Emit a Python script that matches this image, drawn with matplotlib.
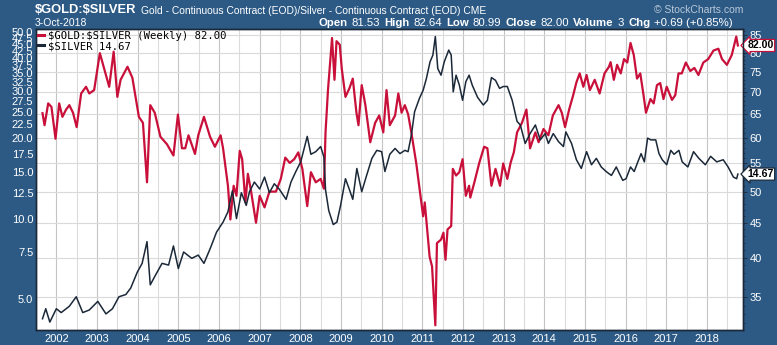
import numpy as np
import matplotlib
matplotlib.use("Agg")
import matplotlib.pyplot as plt
from matplotlib.ticker import FixedLocator, NullFormatter, NullLocator

# Gold/Silver ratio, weekly (decimal year, value)
ratio_t = [2001.66, 2001.71, 2001.80, 2001.88, 2001.98, 2002.07, 2002.15, 2002.24, 2002.32, 2002.41,
           2002.50, 2002.61, 2002.73, 2002.81, 2002.93, 2003.07, 2003.18, 2003.30, 2003.41, 2003.50,
           2003.58, 2003.75, 2003.87, 2004.03, 2004.13, 2004.23, 2004.31, 2004.42, 2004.56, 2004.72,
           2004.88, 2004.99, 2005.09, 2005.17, 2005.25, 2005.41, 2005.49, 2005.63, 2005.78, 2005.90,
           2006.04, 2006.10, 2006.22, 2006.28, 2006.36, 2006.43, 2006.51, 2006.57, 2006.65, 2006.71,
           2006.79, 2006.91, 2007.00, 2007.12, 2007.24, 2007.40, 2007.52, 2007.63, 2007.74, 2007.85,
           2007.95, 2008.05, 2008.17, 2008.26, 2008.38, 2008.50, 2008.58, 2008.62, 2008.68, 2008.78,
           2008.84, 2008.89, 2008.97, 2009.02, 2009.11, 2009.21, 2009.29, 2009.38, 2009.43, 2009.51,
           2009.60, 2009.72, 2009.84, 2009.94, 2010.04, 2010.12, 2010.20, 2010.33, 2010.41, 2010.49,
           2010.57, 2010.65, 2010.73, 2010.85, 2010.94, 2011.02, 2011.06, 2011.18, 2011.24, 2011.32,
           2011.36, 2011.46, 2011.52, 2011.57, 2011.62, 2011.71, 2011.75, 2011.83, 2011.91, 2011.99,
           2012.07, 2012.15, 2012.18, 2012.28, 2012.40, 2012.52, 2012.60, 2012.70, 2012.80, 2012.91,
           2012.99, 2013.09, 2013.17, 2013.25, 2013.33, 2013.45, 2013.56, 2013.65, 2013.78, 2013.86,
           2013.98, 2014.10, 2014.21, 2014.35, 2014.43, 2014.51, 2014.61, 2014.71, 2014.79, 2014.87,
           2014.96, 2015.04, 2015.12, 2015.24, 2015.36, 2015.48, 2015.59, 2015.63, 2015.71, 2015.79,
           2015.88, 2015.96, 2016.04, 2016.12, 2016.20, 2016.28, 2016.36, 2016.44, 2016.50, 2016.61,
           2016.69, 2016.77, 2016.85, 2016.93, 2017.01, 2017.14, 2017.22, 2017.30, 2017.38, 2017.48,
           2017.59, 2017.69, 2017.79, 2017.91, 2018.03, 2018.16, 2018.28, 2018.37, 2018.49, 2018.61,
           2018.72, 2018.76]
ratio_v = [65.2, 62.6, 67.4, 66.6, 59.8, 67.4, 64.4, 66.0, 67.0, 65.3,
           62.2, 69.7, 71.3, 69.7, 70.5, 79.9, 75.7, 71.3, 80.3, 68.9,
           73.0, 76.3, 73.5, 64.4, 63.1, 51.6, 67.0, 65.3, 60.2, 58.7,
           56.5, 64.9, 57.9, 57.9, 60.5, 56.8, 60.5, 64.4, 60.2, 58.2,
           60.5, 57.9, 51.0, 45.5, 51.0, 49.3, 57.4, 55.8, 48.2, 53.1,
           50.0, 45.0, 49.3, 47.4, 50.0, 50.0, 52.2, 56.1, 55.1, 55.8,
           57.1, 54.0, 47.6, 53.4, 51.6, 52.2, 50.5, 61.1, 70.5, 84.1,
           73.0, 83.2, 82.2, 75.7, 68.9, 71.0, 73.3, 65.3, 62.6, 71.7,
           67.0, 59.1, 63.1, 64.7, 61.1, 70.5, 62.6, 64.7, 69.7, 65.3,
           67.0, 65.0, 61.1, 55.1, 50.0, 46.0, 48.2, 40.1, 38.8, 31.8,
           42.0, 42.5, 43.5, 39.7, 44.0, 44.5, 54.0, 52.8, 53.4, 55.8,
           49.3, 51.0, 49.0, 51.6, 55.1, 58.2, 57.9, 51.0, 54.0, 51.0,
           55.0, 52.2, 55.1, 57.1, 61.1, 63.1, 66.0, 57.9, 61.1, 59.1,
           61.8, 60.5, 64.7, 67.0, 65.3, 62.2, 66.0, 69.3, 72.4, 74.6,
           71.3, 74.2, 70.5, 73.0, 69.7, 74.6, 76.3, 77.5, 73.0, 76.8,
           74.6, 78.3, 77.4, 82.7, 79.4, 73.3, 74.6, 69.3, 65.3, 68.4,
           67.4, 71.7, 72.2, 68.4, 71.3, 68.2, 69.3, 74.6, 74.6, 77.4,
           75.2, 76.0, 74.2, 77.4, 78.3, 80.6, 81.1, 78.3, 76.8, 79.4,
           84.5, 82.00]

# Silver price, weekly
silver_t = [2001.66, 2001.74, 2001.84, 2002.00, 2002.12, 2002.32, 2002.49, 2002.65, 2002.81, 2003.02,
            2003.22, 2003.38, 2003.54, 2003.71, 2003.83, 2003.99, 2004.11, 2004.23, 2004.31, 2004.44,
            2004.60, 2004.76, 2004.88, 2005.00, 2005.13, 2005.33, 2005.49, 2005.63, 2005.78, 2005.94,
            2006.10, 2006.22, 2006.33, 2006.43, 2006.55, 2006.67, 2006.75, 2006.87, 2007.00, 2007.12,
            2007.24, 2007.36, 2007.48, 2007.65, 2007.77, 2007.89, 2008.01, 2008.17, 2008.26, 2008.38,
            2008.50, 2008.58, 2008.62, 2008.70, 2008.81, 2008.90, 2008.99, 2009.11, 2009.21, 2009.29,
            2009.39, 2009.51, 2009.63, 2009.76, 2009.88, 2010.00, 2010.08, 2010.20, 2010.33, 2010.45,
            2010.57, 2010.65, 2010.73, 2010.81, 2010.93, 2011.02, 2011.10, 2011.19, 2011.26, 2011.32,
            2011.38, 2011.46, 2011.54, 2011.65, 2011.71, 2011.76, 2011.83, 2011.91, 2011.99, 2012.07,
            2012.15, 2012.23, 2012.36, 2012.50, 2012.60, 2012.70, 2012.80, 2012.90, 2012.99, 2013.09,
            2013.21, 2013.33, 2013.41, 2013.53, 2013.65, 2013.78, 2013.90, 2014.02, 2014.10, 2014.22,
            2014.35, 2014.47, 2014.53, 2014.67, 2014.79, 2014.91, 2015.04, 2015.16, 2015.28, 2015.40,
            2015.52, 2015.65, 2015.77, 2015.85, 2015.93, 2016.01, 2016.12, 2016.21, 2016.30, 2016.38,
            2016.46, 2016.54, 2016.62, 2016.74, 2016.82, 2016.90, 2017.01, 2017.11, 2017.19, 2017.31,
            2017.39, 2017.53, 2017.67, 2017.80, 2017.96, 2018.09, 2018.24, 2018.40, 2018.52, 2018.65,
            2018.73, 2018.76]
silver_v = [4.22, 4.6, 4.1, 4.6, 4.45, 4.7, 5.1, 4.45, 4.55, 4.9,
            4.4, 4.6, 5.1, 5.2, 5.5, 6.3, 6.8, 8.2, 5.65, 6.15,
            6.8, 6.7, 7.9, 6.5, 7.5, 7.1, 7.3, 6.8, 7.7, 8.9,
            9.7, 10.6, 12.7, 10.0, 12.5, 11.2, 12.6, 13.7, 12.9, 14.3,
            12.5, 13.5, 12.9, 11.8, 13.7, 15.0, 16.3, 20.3, 17.4, 17.8,
            18.6, 17.0, 12.8, 10.7, 9.5, 9.7, 11.2, 14.1, 12.8, 11.8,
            15.4, 12.6, 14.5, 16.8, 18.0, 17.8, 15.0, 17.4, 18.3, 17.5,
            18.0, 17.8, 20.5, 25.1, 28.2, 30.2, 33.4, 38.6, 40.9, 48.0,
            36.4, 34.4, 38.6, 42.7, 40.9, 29.8, 34.4, 31.6, 27.7, 32.5,
            34.4, 31.5, 28.4, 26.6, 27.7, 33.7, 32.9, 30.7, 31.2, 31.2,
            27.7, 23.1, 22.4, 19.1, 20.8, 22.4, 19.7, 20.8, 19.1, 20.8,
            19.4, 18.6, 21.1, 19.1, 16.6, 15.4, 17.8, 15.9, 16.8, 15.6,
            15.0, 14.5, 15.6, 14.7, 13.9, 14.1, 15.6, 15.0, 16.3, 17.5,
            16.3, 20.0, 19.7, 19.7, 17.5, 16.6, 15.9, 18.0, 17.4, 18.0,
            16.3, 15.6, 17.8, 16.8, 15.9, 17.1, 16.3, 16.6, 15.6, 14.3,
            14.1, 14.67]

years = list(range(2002, 2019))
ratio_ticks = [35, 40, 45, 50, 55, 60, 65, 70, 75, 80, 85]
silver_ticks = [5.0, 7.5, 10.0, 12.5, 15.0, 17.5, 20.0, 22.5, 25.0, 27.5,
                30.0, 32.5, 35.0, 37.5, 40.0, 42.5, 45.0, 47.5, 50.0]

header_info = [("Open", True), ("81.53", False), ("High", True), ("82.64", False),
               ("Low", True), ("80.99", False), ("Close", True), ("82.00", False),
               ("Volume", True), ("3", False), ("Chg", True), ("+0.69 (+0.85%)", False)]

bg = "#2c5a85"
red = "#c8103a"
navy = "#1b2838"
sans = "Liberation Sans"
mono = "DejaVu Sans Mono"

W, H = 777, 345
fig = plt.figure(figsize=(W / 100, H / 100), dpi=100, facecolor=bg)

# main axes: ratio on the right scale
ax = fig.add_axes([36 / W, 15 / H, 707 / W, 301 / H])
ax.set_facecolor("white")
line_r, = ax.plot(ratio_t, ratio_v, color=red, lw=1.6, zorder=3)
ax.set_yscale("log")
ax.set_ylim(31.3, 86.7)
ax.set_xlim(2001.66, 2018.886)

# silver on the left scale
ax2 = ax.twinx()
line_s, = ax2.plot(silver_t, silver_v, color=navy, lw=1.1)
ax2.set_yscale("log")
ax2.set_ylim(3.83, 51.2)

# twinx puts ax ticks on the left, so swap sides afterwards
ax.yaxis.tick_right()
ax.yaxis.set_label_position("right")
ax2.yaxis.tick_left()
ax2.yaxis.set_label_position("left")

ax.set_yticks(ratio_ticks)
ax.set_yticklabels([str(v) for v in ratio_ticks])
ax.yaxis.set_minor_locator(FixedLocator(range(32, 87)))
ax.yaxis.set_minor_formatter(NullFormatter())
ax.tick_params(axis="y", which="major", length=3, width=0.6, color=navy, pad=1.5,
               labelcolor="white", labelsize=8)
ax.tick_params(axis="y", which="minor", length=1.5, width=0.5, color=navy)
ax.set_xticks(years)
ax.set_xticklabels([str(y) for y in years])
ax.set_xticks([y + 0.5 for y in range(2001, 2019)], minor=True)
ax.tick_params(axis="x", which="both", length=0, pad=3, labelcolor="white", labelsize=8)
for lab in ax.get_xticklabels() + ax.get_yticklabels():
    lab.set_fontfamily(sans)
ax.grid(axis="y", which="major", color="#dadada", lw=0.8)
ax.grid(axis="x", which="major", color="#c4c4c4", lw=0.8)
ax.grid(axis="x", which="minor", color="#dcdcdc", lw=0.8)
ax.set_axisbelow(True)

ax2.set_yticks(silver_ticks)
ax2.set_yticklabels([f"{v:.1f}" for v in silver_ticks])
ax2.yaxis.set_minor_locator(NullLocator())
ax2.tick_params(axis="y", length=0, pad=2, labelcolor="white", labelsize=8)
for lab in ax2.get_yticklabels():
    lab.set_fontfamily(sans)

for a in (ax, ax2):
    for s in a.spines.values():
        s.set_color(navy)
        s.set_linewidth(1.0)

leg = ax2.legend([line_r, line_s],
                 [f"\\$GOLD:\\$SILVER (Weekly) {ratio_v[-1]:.2f}", f"\\$SILVER {silver_v[-1]:.2f}"],
                 loc="upper left", frameon=False, handlelength=0.6, handletextpad=0.35,
                 labelspacing=0.0, borderaxespad=0.0, borderpad=0.2,
                 prop={"family": mono, "size": 7.6})
for h in leg.legend_handles:
    h.set_linewidth(2.2)

# last value tags
ax.text(1.006, ratio_v[-1], f"{ratio_v[-1]:.2f}", transform=ax.get_yaxis_transform(),
        ha="left", va="center", fontsize=7.6, fontweight="bold", family=sans, color="black",
        bbox=dict(boxstyle="larrow,pad=0.1", fc="white", ec=red, lw=0.9), clip_on=False, zorder=10)
ax2.text(1.006, silver_v[-1], f"{silver_v[-1]:.2f}", transform=ax2.get_yaxis_transform(),
         ha="left", va="center", fontsize=7.6, fontweight="bold", family=sans, color="black",
         bbox=dict(boxstyle="larrow,pad=0.1", fc="white", ec=navy, lw=0.9), clip_on=False, zorder=10)

# header
fig.text(35 / W, 1 - 10 / H, "\\$GOLD:\\$SILVER", color="white", fontsize=9.3,
         fontweight="bold", family=sans, va="center")
fig.text(141 / W, 1 - 11 / H,
         "Gold - Continuous Contract (EOD)/Silver - Continuous Contract (EOD) CME",
         color="white", fontsize=7.4, family=sans, va="center")
fig.text(35 / W, 1 - 23 / H, "3-Oct-2018", color="white", fontsize=7.5, family=sans, va="center")
fig.text(743 / W, 1 - 10 / H, "\u00a9 StockCharts.com", color="#b9c8d8", fontsize=7.5,
         family=sans, va="center", ha="right")

renderer = fig.canvas.get_renderer()
xpix = 733
for txt, bold in reversed(header_info):
    t = fig.text(xpix / W, 1 - 23.5 / H, txt, color="white", fontsize=8.2, family=sans,
                 fontweight="bold" if bold else "normal", va="center", ha="right")
    xpix -= t.get_window_extent(renderer).width + 4

fig.savefig("out.png", dpi=100, facecolor=bg)
